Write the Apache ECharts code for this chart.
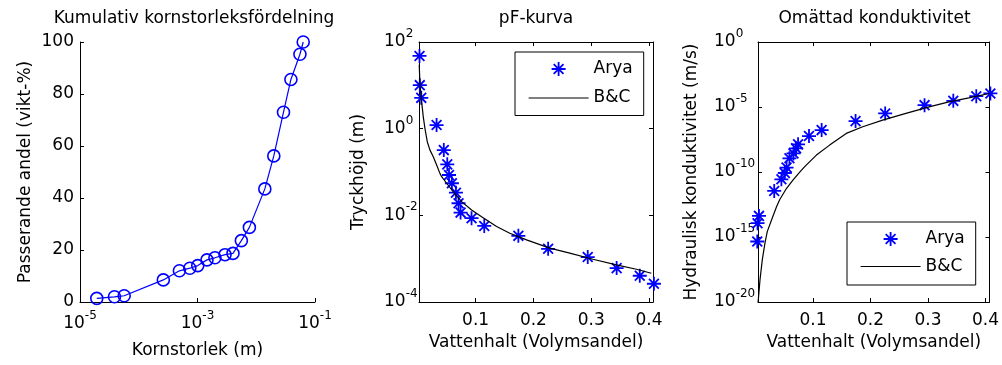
<!DOCTYPE html>
<html>
<head>
<meta charset="utf-8">
<script src="https://cdn.jsdelivr.net/npm/echarts@6/dist/echarts.min.js"></script>
<style>
  html, body { margin: 0; padding: 0; background: #fff; }
  #chart { width: 1002px; height: 365px; }
</style>
</head>
<body>
<div id="chart"></div>
<script>
// ---------- data ----------
const titles = ['Kumulativ kornstorleksfördelning', 'pF-kurva', 'Omättad konduktivitet'];
const xNames = ['Kornstorlek (m)', 'Vattenhalt (Volymsandel)', 'Vattenhalt (Volymsandel)'];
const yNames = ['Passerande andel (vikt-%)', 'Tryckhöjd (m)', 'Hydraulisk konduktivitet (m/s)'];
const legendNames = ['Arya', 'B&C'];

// panel 1: cumulative grain size distribution
const grainSize = [1.93e-5, 3.86e-5, 5.65e-5, 2.62e-4, 4.92e-4, 7.4e-4, 1.01e-3, 1.45e-3, 1.98e-3, 2.94e-3,
                   4.02e-3, 5.58e-3, 7.64e-3, 1.40e-2, 1.99e-2, 2.91e-2, 3.89e-2, 5.54e-2, 6.3e-2];
const passing   = [1.4, 2.0, 2.4, 8.5, 12, 13, 14, 16.2, 17, 18.2,
                   18.7, 23.6, 28.7, 43.5, 56.2, 73, 85.6, 95.3, 100];

// Arya points (shared water content)
const aryaTheta = [0.003, 0.0035, 0.006, 0.0325, 0.045, 0.051, 0.054, 0.059, 0.066, 0.0705,
                   0.074, 0.093, 0.115, 0.174, 0.2255, 0.294, 0.344, 0.384, 0.4085];
const aryaHead  = [47.6, 10.1, 5.14, 1.21, 0.32, 0.150, 0.0853, 0.055, 0.0333, 0.019,
                   0.01156, 0.0086, 0.0057, 0.00336, 0.00169, 0.00109, 0.000605, 0.000403, 0.000264];
const aryaK     = [4.5e-16, 1.15e-14, 4.2e-14, 3.5e-12, 2.75e-11, 8.4e-11, 2.2e-10, 1.13e-9, 2.7e-9, 6.6e-9,
                   1.34e-8, 5.8e-8, 1.67e-7, 8.2e-7, 3.2e-6, 1.39e-5, 2.97e-5, 6.8e-5, 1.1e-4];

// B&C curves
const bcTheta2 = [0.0025, 0.0038, 0.0067, 0.0095, 0.0124, 0.0164, 0.0211, 0.0268, 0.0326, 0.0383,
                  0.0413, 0.0499, 0.0613, 0.0758, 0.0931, 0.1104, 0.1363, 0.1592, 0.1881, 0.2283,
                  0.2629, 0.3031, 0.3435, 0.3781, 0.4040];
const bcHead   = [30, 10.1, 4.16, 1.87, 1.01, 0.50, 0.32, 0.225, 0.145, 0.093,
                  0.078, 0.055, 0.0352, 0.0207, 0.0133, 0.0093, 0.0055, 0.00387, 0.00272, 0.00175,
                  0.00134, 0.00097, 0.00072, 0.00057, 0.00046];
const bcTheta3 = [0.0045, 0.0078, 0.0118, 0.0164, 0.0204, 0.028, 0.0367, 0.0424, 0.054, 0.0654,
                  0.0799, 0.0886, 0.1059, 0.1289, 0.1578, 0.1865, 0.2211, 0.2616, 0.3019, 0.3365,
                  0.3711, 0.4065];
const bcK      = [1e-20, 5.1e-19, 1.8e-17, 3.4e-16, 2.6e-15, 2.1e-14, 2.2e-13, 8.1e-13, 5.6e-12, 2.5e-11,
                  1.4e-10, 3.5e-10, 2.0e-9, 1.17e-8, 9.3e-8, 3.0e-7, 9.8e-7, 3.2e-6, 1.02e-5, 2.5e-5,
                  5.0e-5, 1.1e-4];

// tick values
const p1XTicks = [1e-5, 1e-3, 1e-1];
const p1YTicks = [0, 20, 40, 60, 80, 100];
const thetaTicks = [0.1, 0.2, 0.3, 0.4];
const p2YTicks = [1e-4, 1e-2, 1, 1e2];
const p3YTicks = [1e-20, 1e-15, 1e-10, 1e-5, 1];

// ---------- styling ----------
const FONT = 'DejaVu Sans';
const FS = 17;
const BLUE = '#0000ff';
const STAR = 'path://M0,-10L0,10M-10,0L10,0M-7,-7L7,7M-7,7L7,-7';

const supRich = {
  b: { fontFamily: FONT, fontSize: FS, color: '#000', lineHeight: 28 },
  s: { fontFamily: FONT, fontSize: 12, color: '#000', lineHeight: 12, verticalAlign: 'top' }
};
function powLabel(v) {
  const e = Math.round(Math.log10(v));
  return '{b|10}{s|' + e + '}';
}
const lineStyleAxis = { color: '#000', width: 1 };
function tick(values) {
  return { show: true, inside: true, length: 4, lineStyle: lineStyleAxis, customValues: values };
}
const nameStyle = { fontFamily: FONT, fontSize: FS, color: '#000' };

function zip(a, b) { return a.map((v, i) => [v, b[i]]); }

const grids = [
  { left: 80, top: 42, width: 235, height: 260 },
  { left: 419, top: 42, width: 234, height: 260 },
  { left: 758, top: 42, width: 233, height: 260 }
];

const xAxis = [
  { gridIndex: 0, type: 'log', logBase: 10, min: 1e-5, max: 1e-1, position: 'bottom',
    axisLine: { show: true, lineStyle: lineStyleAxis }, axisTick: tick(p1XTicks), splitLine: { show: false },
    axisLabel: { customValues: p1XTicks, margin: 8, formatter: powLabel, rich: supRich },
    name: xNames[0], nameLocation: 'middle', nameGap: 40, nameTextStyle: nameStyle },
  { gridIndex: 1, type: 'value', min: 0.0021, max: 0.4069, position: 'bottom',
    axisLine: { show: true, lineStyle: lineStyleAxis }, axisTick: tick(thetaTicks), splitLine: { show: false },
    axisLabel: { customValues: thetaTicks, margin: 10, fontFamily: FONT, fontSize: FS, color: '#000',
                 formatter: v => v.toFixed(1) },
    name: xNames[1], nameLocation: 'middle', nameGap: 32, nameTextStyle: nameStyle },
  { gridIndex: 1, type: 'value', min: 0.0021, max: 0.4069, position: 'top',
    axisLine: { show: true, lineStyle: lineStyleAxis }, axisTick: tick(thetaTicks), splitLine: { show: false },
    axisLabel: { show: false } },
  { gridIndex: 2, type: 'value', min: 0.0043, max: 0.4069, position: 'bottom',
    axisLine: { show: true, lineStyle: lineStyleAxis }, axisTick: tick(thetaTicks), splitLine: { show: false },
    axisLabel: { customValues: thetaTicks, margin: 10, fontFamily: FONT, fontSize: FS, color: '#000',
                 formatter: v => v.toFixed(1) },
    name: xNames[2], nameLocation: 'middle', nameGap: 32, nameTextStyle: nameStyle },
  { gridIndex: 2, type: 'value', min: 0.0043, max: 0.4069, position: 'top',
    axisLine: { show: true, lineStyle: lineStyleAxis }, axisTick: tick(thetaTicks), splitLine: { show: false },
    axisLabel: { show: false } }
];

const yAxis = [
  { gridIndex: 0, type: 'value', min: 0, max: 100, interval: 20, position: 'left',
    axisLine: { show: true, lineStyle: lineStyleAxis }, axisTick: tick(p1YTicks), splitLine: { show: false },
    axisLabel: { customValues: p1YTicks, margin: 6, fontFamily: FONT, fontSize: FS, color: '#000' },
    name: yNames[0], nameLocation: 'middle', nameGap: 46, nameTextStyle: nameStyle },
  { gridIndex: 1, type: 'log', logBase: 10, min: 1e-4, max: 1e2, position: 'left',
    axisLine: { show: true, lineStyle: lineStyleAxis }, axisTick: tick(p2YTicks), splitLine: { show: false },
    axisLabel: { customValues: p2YTicks, margin: 35, align: 'left', formatter: powLabel, rich: supRich },
    name: yNames[1], nameLocation: 'middle', nameGap: 52, nameTextStyle: nameStyle },
  { gridIndex: 1, type: 'log', logBase: 10, min: 1e-4, max: 1e2, position: 'right',
    axisLine: { show: true, lineStyle: lineStyleAxis }, axisTick: tick(p2YTicks), splitLine: { show: false },
    axisLabel: { show: false } },
  { gridIndex: 2, type: 'log', logBase: 10, min: 1e-20, max: 1, position: 'left',
    axisLine: { show: true, lineStyle: lineStyleAxis }, axisTick: tick(p3YTicks), splitLine: { show: false },
    axisLabel: { customValues: p3YTicks, margin: 44, align: 'left', formatter: powLabel, rich: supRich },
    name: yNames[2], nameLocation: 'middle', nameGap: 58, nameTextStyle: nameStyle },
  { gridIndex: 2, type: 'log', logBase: 10, min: 1e-20, max: 1, position: 'right',
    axisLine: { show: true, lineStyle: lineStyleAxis }, axisTick: tick(p3YTicks), splitLine: { show: false },
    axisLabel: { show: false } }
];

const titleCenters = [194, 536, 874.5];
const title = titles.map((t, i) => ({
  text: t, left: titleCenters[i], top: 10, textAlign: 'center', padding: 0,
  textStyle: { fontFamily: FONT, fontSize: FS, fontWeight: 'normal', color: '#000' }
}));

const starStyle = { color: BLUE, borderColor: BLUE, borderWidth: 1.8, opacity: 1 };
const legendBase = {
  orient: 'vertical', itemWidth: 60, itemHeight: 14,
  borderColor: '#000', borderWidth: 1, backgroundColor: '#fff', borderRadius: 0,
  textStyle: { fontFamily: FONT, fontSize: FS, color: '#000' },
  selectedMode: false,
  data: [
    { name: legendNames[0], itemStyle: starStyle },
    { name: legendNames[1], itemStyle: { color: 'rgba(0,0,0,0)', borderWidth: 0, opacity: 0 },
      lineStyle: { color: '#000', width: 1.2, opacity: 1 } }
  ]
};
const legend = [
  Object.assign({}, legendBase, { left: 515, top: 52, itemGap: 12, padding: [8.5, 11, 9, 13] }),
  Object.assign({}, legendBase, { left: 847, top: 222, itemGap: 10.5, padding: [8.5, 11, 10, 13] })
];

const starScatter = (name, xi, yi, data) => ({
  type: 'scatter', name, xAxisIndex: xi, yAxisIndex: yi, data,
  symbol: STAR, symbolSize: 14, clip: false,
  itemStyle: starStyle
});
const bcLine = (name, xi, yi, data) => ({
  type: 'line', name, xAxisIndex: xi, yAxisIndex: yi, data,
  symbol: 'none', showSymbol: false, clip: false,
  lineStyle: { color: '#000', width: 1.2 }, itemStyle: { color: '#000' }
});

const series = [
  { type: 'line', name: 'Kornstorlek', xAxisIndex: 0, yAxisIndex: 0, data: zip(grainSize, passing),
    symbol: 'circle', symbolSize: 12, showSymbol: true, clip: false,
    lineStyle: { color: BLUE, width: 1.2 },
    itemStyle: { color: 'rgba(0,0,0,0)', borderColor: BLUE, borderWidth: 1.6 } },
  starScatter(legendNames[0], 1, 1, zip(aryaTheta, aryaHead)),
  bcLine(legendNames[1], 1, 1, zip(bcTheta2, bcHead)),
  starScatter(legendNames[0], 3, 3, zip(aryaTheta, aryaK)),
  bcLine(legendNames[1], 3, 3, zip(bcTheta3, bcK))
];

const chart = echarts.init(document.getElementById('chart'), null, { renderer: 'canvas' });
chart.setOption({
  animation: false,
  backgroundColor: '#fff',
  textStyle: { fontFamily: FONT },
  title, legend, grid: grids, xAxis, yAxis, series
});
</script>
</body>
</html>
